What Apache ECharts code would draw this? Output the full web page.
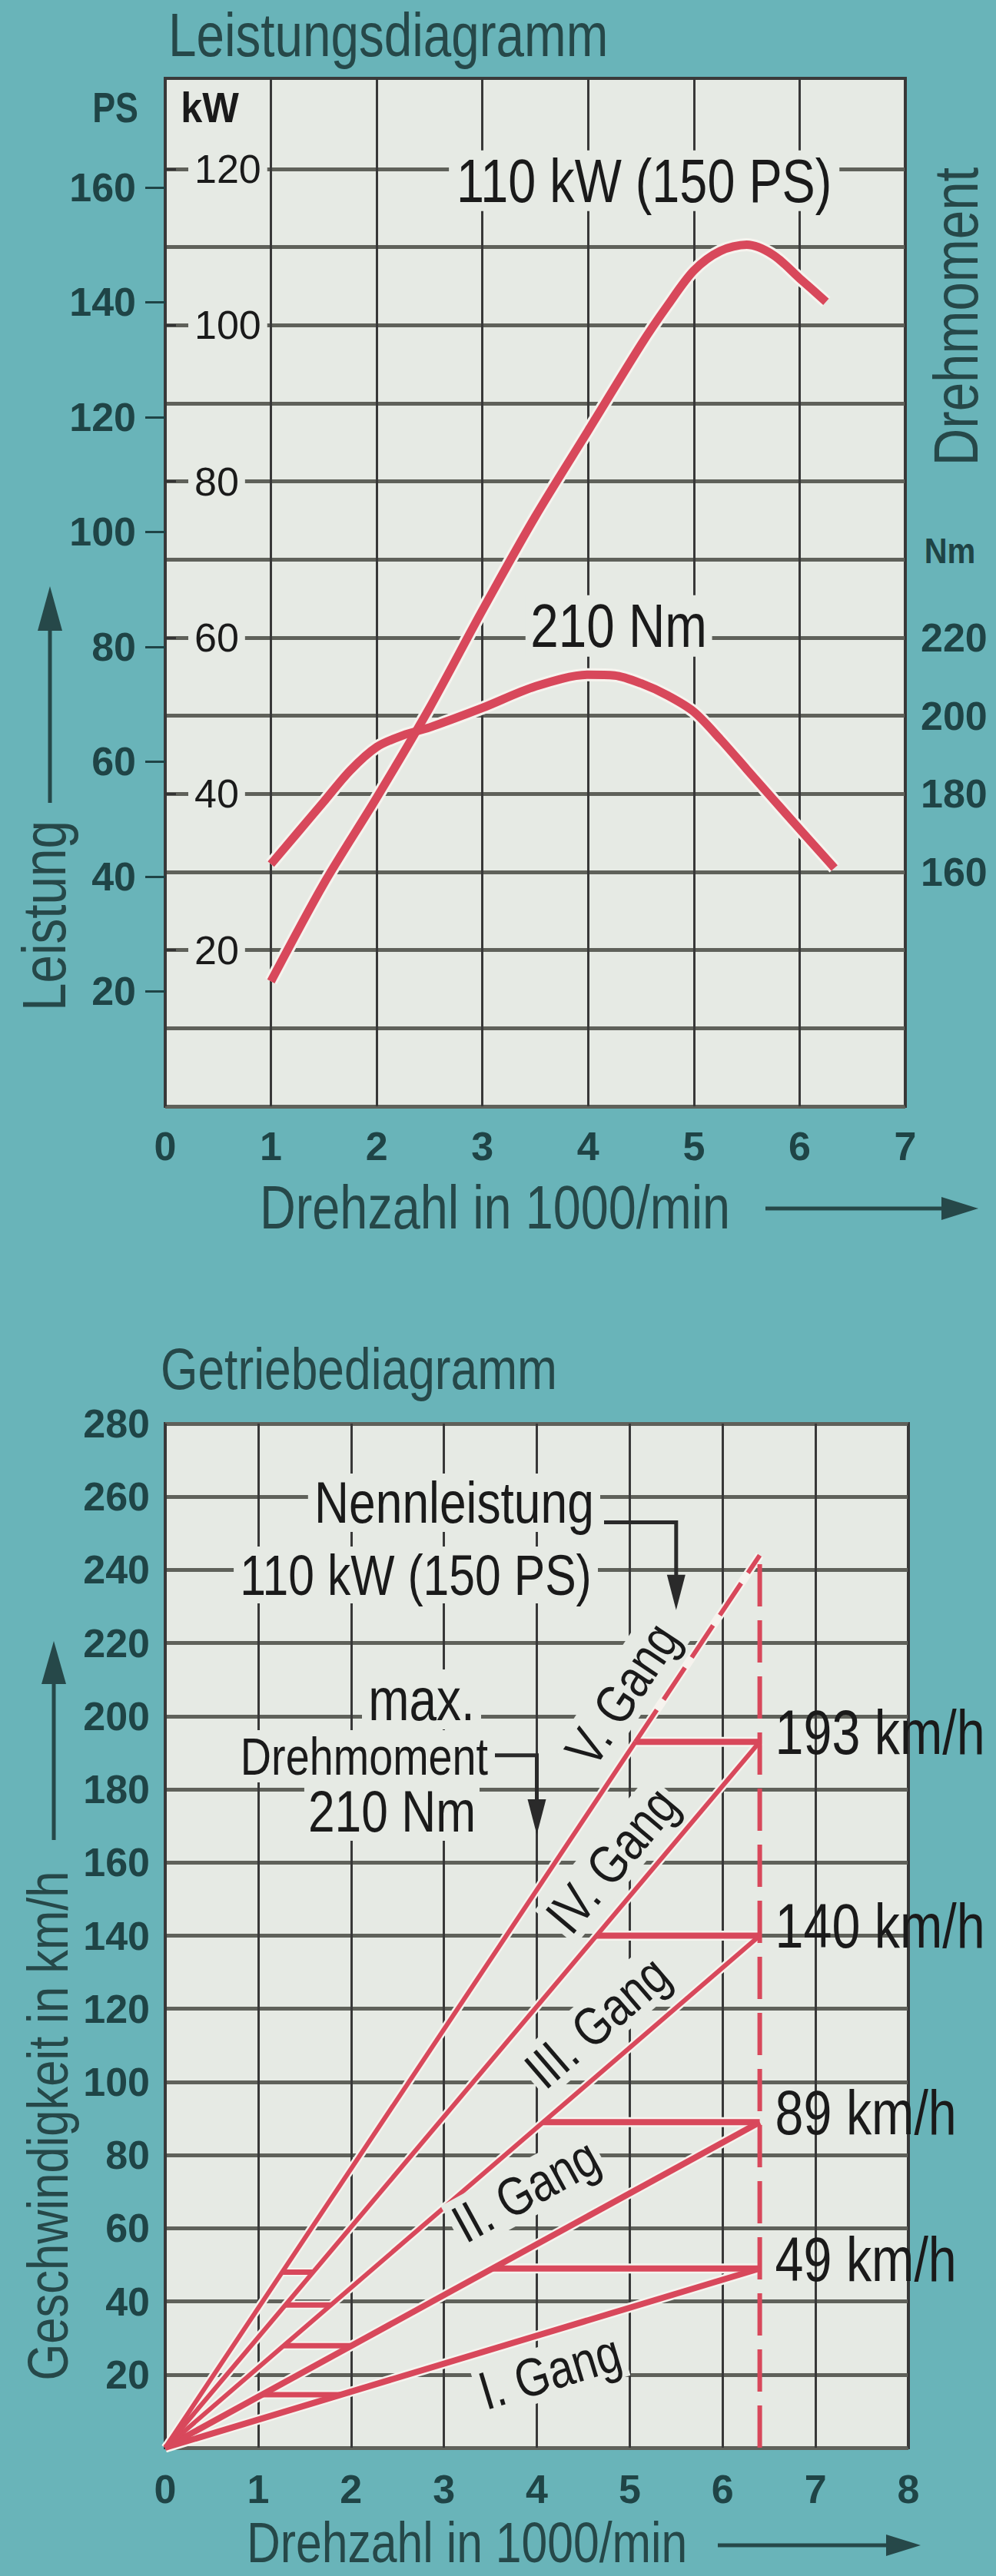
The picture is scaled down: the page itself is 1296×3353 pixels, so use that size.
<!DOCTYPE html>
<html><head><meta charset="utf-8">
<script src="https://cdn.jsdelivr.net/npm/echarts@6/dist/echarts.min.js"></script>
<style>html,body{margin:0;padding:0;background:#69b4b9;}#c{width:1296px;height:3353px;}</style>
</head><body><div id="c"></div>
<script>
// ---------- DATA: Leistungsdiagramm ----------
const rpmTicksTop = [0, 1, 2, 3, 4, 5, 6, 7];
const powerRpm = [1.0, 1.5, 2.0, 2.5, 3.0, 3.5, 4.0, 4.5, 4.75, 5.0, 5.25, 5.5, 5.75, 6.0, 6.25];
const powerKW  = [16, 28.5, 39.5, 51, 63.5, 75.5, 86.5, 97.5, 102.5, 107, 109.5, 110.3, 109, 106, 103];
const torqueRpm = [1.0, 1.25, 1.5, 1.75, 2.0, 2.25, 2.5, 3.0, 3.5, 4.0, 4.25, 4.5, 4.75, 5.0, 5.25, 5.5, 5.75, 6.0, 6.33];
const torqueNm  = [162, 170, 178, 186, 192, 195, 197, 202, 207.5, 210.5, 210.3, 208.3, 205.2, 201, 194, 186.3, 178.6, 171, 161];
const kwGridValues  = [0, 10, 20, 30, 40, 50, 60, 70, 80, 90, 100, 110, 120];
const kwLabelValues = [20, 40, 60, 80, 100, 120];
const psLabelValues = [20, 40, 60, 80, 100, 120, 140, 160];
const nmLabelValues = [160, 180, 200, 220];
const kWTop = 131.6;          // kW value at top border
const psPerKW = 1.36;         // PS scale
const nmBase = 100, nmPerKW = 2;  // right scale: Nm = 100 + 2*kW
const powerLabel = '110 kW (150 PS)';
const torqueLabel = '210 Nm';

// ---------- DATA: Getriebediagramm ----------
const gearNames = ['I. Gang', 'II. Gang', 'III. Gang', 'IV. Gang', 'V. Gang'];
const gearSpeedAtRated = [49, 89, 140, 193, 244];   // km/h at rated rpm
const ratedRpm = 6.4;
const shiftSpeeds = [49, 89, 140, 193];
const lowShiftSpeeds = [14.5, 27.9, 39, 48];
const ratedPowerRpm = 5.5, maxTorqueRpm = 4.0;

// ---------- STYLE ----------
const TEAL = '#69b4b9', PLOT = '#e6eae4', GRIDH = '#5f615a', GRIDV = '#383838', BORDER = '#3a3a3a';
const RED = '#d8485b', HALO = '#f6f3ee', DARK = '#1f4446', TITLE = '#264849', INK = '#1a1a1a';
const FONT = '"Liberation Sans", Arial, Helvetica, sans-serif';

const chart = echarts.init(document.getElementById('c'), null, {renderer: 'svg', width: 1296, height: 3353});

function pair(xs, ys) { return xs.map((x, i) => [x, ys[i]]); }
const powerData = pair(powerRpm, powerKW);
const torqueData = pair(torqueRpm, torqueNm);
const rpmOn = (g, v) => v / gearSpeedAtRated[g] * ratedRpm;

function line(data, xi, yi, w, opts) {
  opts = opts || {};
  const base = {type: 'line', xAxisIndex: xi, yAxisIndex: yi, data, symbol: 'none', silent: true,
    smooth: opts.smooth || false, animation: false};
  const arr = [];
  if (!opts.noHalo) arr.push(Object.assign({}, base, {z: 2, lineStyle: {color: HALO, width: w + (opts.halo || 6), type: 'solid', cap: 'butt'}}));
  arr.push(Object.assign({}, base, {z: 3, lineStyle: {color: RED, width: w, type: opts.type || 'solid', cap: 'butt'}}));
  return arr;
}

const series = [];
series.push(...line(powerData, 0, 1, 11, {smooth: 0.3}));
series.push(...line(torqueData, 0, 3, 11, {smooth: 0.3}));
for (let g = 0; g < 5; g++) {
  const w = g < 2 ? 8 : 6;
  if (g < 4) {
    series.push(...line([[0, 0], [ratedRpm, gearSpeedAtRated[g]]], 1, 4, w, {halo: 5}));
  } else {
    series.push(...line([[0, 0], [rpmOn(4, shiftSpeeds[3]), shiftSpeeds[3]]], 1, 4, w, {halo: 5}));
    series.push(...line([[rpmOn(4, shiftSpeeds[3]), shiftSpeeds[3]], [ratedRpm, gearSpeedAtRated[4]]], 1, 4, w, {halo: 5, type: [50, 16]}));
  }
}
shiftSpeeds.forEach((s, i) => {
  series.push(...line([[rpmOn(i + 1, s), s], [ratedRpm, s]], 1, 4, 8, {halo: 5}));
});
lowShiftSpeeds.forEach((s, i) => {
  series.push(...line([[rpmOn(i + 1, s), s], [rpmOn(i, s), s]], 1, 4, 7, {halo: 4}));
});
series.push(...line([[ratedRpm, 0], [ratedRpm, gearSpeedAtRated[4]]], 1, 4, 6, {noHalo: true, type: [55, 18]}));

const axisNum = {fontFamily: FONT, fontSize: 52, fontWeight: 'bold', color: DARK};

const option = {
  backgroundColor: TEAL,
  animation: false,
  grid: [
    {left: 215, top: 102, width: 963, height: 1338, show: true, backgroundColor: PLOT, borderColor: BORDER, borderWidth: 4, containLabel: false},
    {left: 215, top: 1853, width: 967, height: 1333, show: true, backgroundColor: PLOT, borderColor: BORDER, borderWidth: 4, containLabel: false}
  ],
  xAxis: [
    {gridIndex: 0, type: 'value', min: 0, max: 7, interval: 1,
     axisLine: {show: false}, axisTick: {show: false},
     splitLine: {show: true, lineStyle: {color: GRIDV, width: 3}},
     axisLabel: Object.assign({margin: 26}, axisNum)},
    {gridIndex: 1, type: 'value', min: 0, max: 8, interval: 1,
     axisLine: {show: false}, axisTick: {show: false},
     splitLine: {show: true, lineStyle: {color: GRIDV, width: 3}},
     axisLabel: Object.assign({margin: 28}, axisNum)}
  ],
  yAxis: [
    {gridIndex: 0, type: 'value', min: 0, max: kWTop, position: 'left', z: 0,
     axisLine: {show: false}, axisLabel: {show: false},
     axisTick: {show: false, customValues: kwGridValues},
     splitLine: {show: true, lineStyle: {color: GRIDH, width: 5}}},
    {gridIndex: 0, type: 'value', min: 0, max: kWTop, position: 'left', z: 4,
     axisLine: {show: false}, splitLine: {show: false},
     axisTick: {show: true, inside: true, length: 14, customValues: kwLabelValues, lineStyle: {color: '#333', width: 3}},
     axisLabel: {inside: true, customValues: kwLabelValues, margin: 30, fontFamily: FONT, fontSize: 52, color: INK,
                 backgroundColor: PLOT, padding: [0, 8]}},
    {gridIndex: 0, type: 'value', min: 0, max: kWTop * psPerKW, position: 'left',
     axisLine: {show: false}, splitLine: {show: false},
     axisTick: {show: true, length: 26, customValues: psLabelValues, lineStyle: {color: DARK, width: 3}},
     axisLabel: Object.assign({customValues: psLabelValues, margin: 38}, axisNum)},
    {gridIndex: 0, type: 'value', min: nmBase, max: nmBase + nmPerKW * kWTop, position: 'right',
     axisLine: {show: false}, splitLine: {show: false},
     axisTick: {show: false, customValues: nmLabelValues},
     axisLabel: Object.assign({customValues: nmLabelValues, margin: 20}, axisNum)},
    {gridIndex: 1, type: 'value', min: 0, max: 280, interval: 20, position: 'left',
     axisLine: {show: false}, axisTick: {show: false},
     splitLine: {show: true, lineStyle: {color: GRIDH, width: 5}},
     axisLabel: Object.assign({showMinLabel: false, margin: 20}, axisNum)}
  ],
  series
};
chart.setOption(option);

// ---------- annotations ----------
const P0 = p => chart.convertToPixel({gridIndex: 0}, p);
const P1 = p => chart.convertToPixel({gridIndex: 1}, p);
const SX = 0.82;
function txt(text, x, y, o) {
  o = o || {};
  const st = {text, fontFamily: FONT, fontSize: o.size || 72, fontWeight: o.weight || 'normal', fill: o.color || INK,
    align: o.align || 'left', textAlign: o.align || 'left', verticalAlign: 'middle', textVerticalAlign: 'middle'};
  if (o.bg) { st.backgroundColor = o.bg; st.padding = o.pad || [0, 10]; }
  return {type: 'text', x, y, rotation: o.rot || 0, scaleX: o.sx == null ? SX : o.sx, z: 100, silent: true, style: st};
}
function poly(points, w, color) {
  return {type: 'polyline', z: 100, silent: true, shape: {points}, style: {stroke: color || '#2a2a2a', lineWidth: w || 5, fill: null}};
}
function head(tip, dir, len, wid, color) {
  const [x, y] = tip; let pts;
  if (dir === 'up') pts = [[x, y], [x - wid / 2, y + len], [x + wid / 2, y + len]];
  else if (dir === 'down') pts = [[x, y], [x - wid / 2, y - len], [x + wid / 2, y - len]];
  else pts = [[x, y], [x - len, y - wid / 2], [x - len, y + wid / 2]];
  return {type: 'polygon', z: 100, silent: true, shape: {points: pts}, style: {fill: color || '#2a2a2a'}};
}

const g = [];
// top chart texts
g.push(txt('Leistungsdiagramm', 219, 46, {size: 80, color: TITLE}));
g.push(txt('PS', 150, 140, {size: 56, weight: 'bold', color: DARK, align: 'center', sx: 0.8}));
g.push(txt('kW', 273, 140, {size: 56, weight: 'bold', color: INK, align: 'center', sx: 0.9}));
g.push(txt('Drehmoment', 1244, 412, {size: 82, color: TITLE, align: 'center', rot: Math.PI / 2}));
g.push(txt('Nm', 1236, 717, {size: 46, weight: 'bold', color: DARK, align: 'center', sx: 0.9}));
g.push(txt('Leistung', 58, 1192, {size: 80, color: TITLE, align: 'center', rot: Math.PI / 2}));
g.push(poly([[65, 1045], [65, 815]], 5, TITLE));
g.push(head([65, 763], 'up', 58, 32, TITLE));
g.push(txt('Drehzahl in 1000/min', 338, 1572, {size: 79, color: TITLE}));
g.push(poly([[996, 1573], [1232, 1573]], 5, TITLE));
g.push(head([1273, 1573], 'right', 48, 30, TITLE));
let p = P0([4.53, 118.5]);
g.push(txt(powerLabel, p[0], p[1], {size: 79, align: 'center', bg: PLOT, pad: [0, 12]}));
p = P0([4.29, 61.5]);
g.push(txt(torqueLabel, p[0], p[1], {size: 80, align: 'center', bg: PLOT, pad: [0, 8]}));

// bottom chart texts
g.push(txt('Getriebediagramm', 209, 1782, {size: 76, color: TITLE}));
g.push(txt('Geschwindigkeit in km/h', 62, 2767, {size: 75, color: TITLE, align: 'center', rot: Math.PI / 2}));
g.push(poly([[70, 2395], [70, 2188]], 5, TITLE));
g.push(head([70, 2136], 'up', 56, 32, TITLE));
g.push(txt('Drehzahl in 1000/min', 321, 3309, {size: 74, color: TITLE}));
g.push(poly([[934, 3313], [1160, 3313]], 5, TITLE));
g.push(head([1198, 3313], 'right', 45, 28, TITLE));

const yN = P1([0, 253])[1], yNtip = P1([0, 229])[1], xN = P1([ratedPowerRpm, 0])[0];
g.push(txt('Nennleistung', 781, 1956, {size: 76, align: 'right', bg: PLOT, pad: [0, 10]}));
g.push(txt(powerLabel, 778, 2050, {size: 74, align: 'right', bg: PLOT, pad: [0, 10]}));
g.push(poly([[786, yN], [xN, yN], [xN, yNtip - 40]], 5));
g.push(head([xN, yNtip], 'down', 46, 24));
const yT = P1([0, 189.3])[1], yTtip = P1([0, 167.6])[1], xT = P1([maxTorqueRpm, 0])[0];
g.push(txt('max.', 626, 2212, {size: 78, align: 'right', bg: PLOT, pad: [0, 10]}));
g.push(txt('Drehmoment', 640, 2286, {size: 68, align: 'right', bg: PLOT, pad: [0, 6]}));
g.push(txt(torqueLabel, 624, 2358, {size: 76, align: 'right', bg: PLOT, pad: [0, 6]}));
g.push(poly([[644, yT], [xT, yT], [xT, yTtip - 40]], 5));
g.push(head([xT, yTtip], 'down', 46, 24));

// shift speed labels
shiftSpeeds.forEach(s => {
  const q = P1([ratedRpm, s]);
  g.push(txt(s + ' km/h', q[0] + 20, q[1] - 12, {size: 81}));
});
// gear labels rotated along lines
const gangLabelPos = [[4.14, 20.8], [3.88, 70.4], [4.65, 116.4], [4.81, 160.7], [4.92, 206]];
gearNames.forEach((nm, i) => {
  const a = P1([0, 0]), b = P1([ratedRpm, gearSpeedAtRated[i]]);
  const ang = Math.atan2(a[1] - b[1], b[0] - a[0]);
  const q = P1(gangLabelPos[i]);
  g.push(txt(nm, q[0], q[1], {size: 70, align: 'center', rot: ang, bg: PLOT, pad: [0, 6]}));
});

chart.setOption({graphic: g});
</script></body></html>
